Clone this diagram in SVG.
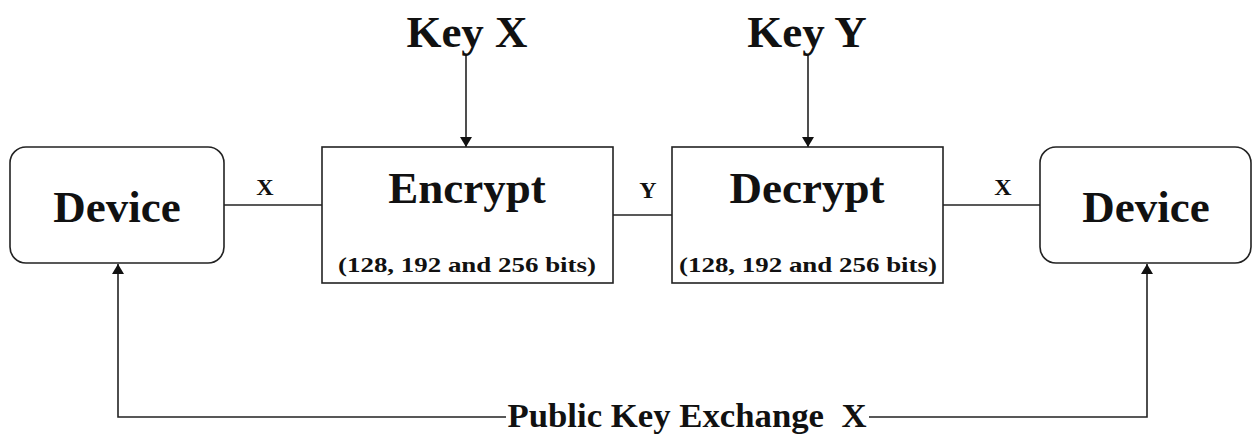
<svg xmlns="http://www.w3.org/2000/svg" width="1252" height="436" viewBox="0 0 1252 436">
<defs>
<marker id="arr" markerWidth="10" markerHeight="14" refX="10" refY="7" orient="auto" markerUnits="userSpaceOnUse"><path d="M0,1 L10,7 L0,13 Z" fill="#111"/></marker>
<style>
.box{fill:#fff;stroke:#222;stroke-width:1.6}
.ln{fill:none;stroke:#222;stroke-width:1.6}
.t{font-family:'Liberation Serif',serif;font-weight:700;fill:#111;text-anchor:middle}
.big{font-size:45px}
.sub{font-size:21px}
.lbl{font-size:24px}
.bot{font-size:34px;white-space:pre}
</style>
</defs>
<rect width="1252" height="436" fill="#fff"/>
<g id="connectors">
<path class="ln" d="M224,205 H322"/>
<path class="ln" d="M613,215 H672"/>
<path class="ln" d="M943,205 H1040"/>
<path class="ln" d="M466,54 V147" marker-end="url(#arr)"/>
<path class="ln" d="M808,54 V147" marker-end="url(#arr)"/>
<path class="ln" d="M506,417 H118 V264" marker-end="url(#arr)"/>
<path class="ln" d="M869,417 H1147 V264" marker-end="url(#arr)"/>
<text class="t lbl" x="265" y="195">X</text>
<text class="t lbl" x="648" y="198">Y</text>
<text class="t lbl" x="1003" y="195">X</text>
<text class="t bot" x="687" y="427" textLength="359" lengthAdjust="spacingAndGlyphs" xml:space="preserve">Public Key Exchange  X</text>
</g>
<g id="keyX"><text class="t big" x="467" y="47">Key X</text></g>
<g id="keyY"><text class="t big" x="807" y="47">Key Y</text></g>
<g id="device1">
<rect class="box" x="10" y="147" width="214" height="116" rx="16"/>
<text class="t big" x="117" y="222">Device</text>
</g>
<g id="encrypt">
<rect class="box" x="322" y="147" width="291" height="136"/>
<text class="t big" x="467" y="203">Encrypt</text>
<text class="t sub" x="467" y="272" textLength="258" lengthAdjust="spacingAndGlyphs">(128, 192 and 256 bits)</text>
</g>
<g id="decrypt">
<rect class="box" x="672" y="147" width="271" height="136"/>
<text class="t big" x="807" y="203">Decrypt</text>
<text class="t sub" x="808" y="272" textLength="258" lengthAdjust="spacingAndGlyphs">(128, 192 and 256 bits)</text>
</g>
<g id="device2">
<rect class="box" x="1040" y="147" width="211" height="116" rx="16"/>
<text class="t big" x="1146" y="222">Device</text>
</g>
</svg>
